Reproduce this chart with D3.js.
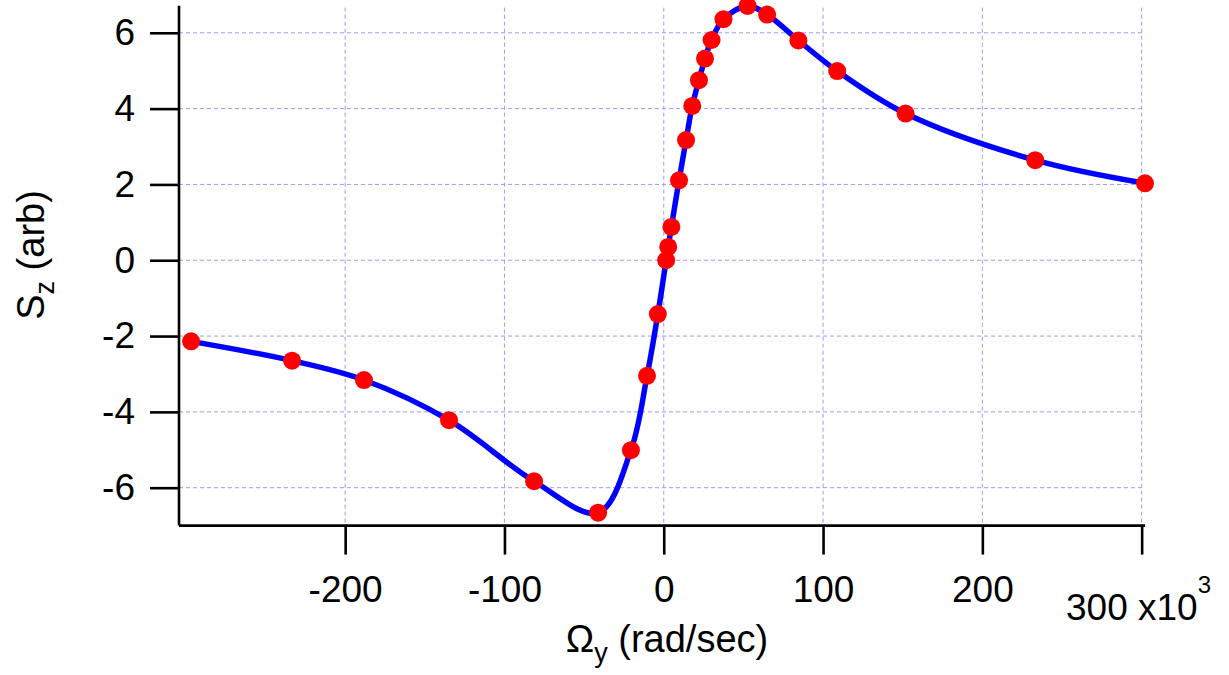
<!DOCTYPE html>
<html>
<head>
<meta charset="utf-8">
<script src="https://cdn.jsdelivr.net/npm/d3@7"></script>
<style>
  html, body { margin: 0; padding: 0; background: #fff; }
  svg { display: block; font-family: "Liberation Sans", Arial, sans-serif; }
</style>
</head>
<body>
<svg id="chart" width="1229" height="675"></svg>
<script>
// Rotation rate Ω_y (units of 10^3 rad/sec) and measured spin signal S_z (arb.)
const omega = [-296.7, -233.3, -188.2, -134.8, -81.4, -41.2, -20.6, -10.5, -3.7,
               1.5, 2.8, 4.8, 9.6, 14.0, 17.9, 22.1, 25.9, 30.0, 37.5, 52.6,
               64.9, 84.5, 108.9, 151.8, 233.2, 302.1];
const sz    = [-2.14, -2.65, -3.16, -4.22, -5.83, -6.66, -5.01, -3.05, -1.42,
               0.0, 0.35, 0.88, 2.11, 3.17, 4.07, 4.75, 5.32, 5.81, 6.36, 6.71,
               6.48, 5.80, 4.99, 3.87, 2.64, 2.03];

const xTicks = [-200, -100, 0, 100, 200, 300];
const yTicks = [-6, -4, -2, 0, 2, 4, 6];

const svg = d3.select("#chart");

const x = d3.scaleLinear().domain([-304.3, 302.1]).range([179, 1145]);
const y = d3.scaleLinear().domain([-7.0, 6.715]).range([525.6, 5.7]);

const gridColor = "#9a9aff";
const tickFont = 37;
const titleFont = 38;

// dashed grid
const grid = svg.append("g");
grid.selectAll("line.gx").data(xTicks).join("line")
  .attr("x1", d => x(d)).attr("x2", d => x(d))
  .attr("y1", y.range()[1] + 2).attr("y2", y.range()[0])
  .attr("stroke", gridColor).attr("stroke-width", 1)
  .attr("stroke-dasharray", "4,3");
grid.selectAll("line.gy").data(yTicks).join("line")
  .attr("x1", x.range()[0]).attr("x2", x.range()[1])
  .attr("y1", d => y(d)).attr("y2", d => y(d))
  .attr("stroke", gridColor).attr("stroke-width", 1)
  .attr("stroke-dasharray", "4,3");

// axes (plain hyphen for negatives)
const xAxis = d3.axisBottom(x).tickValues(xTicks).tickSize(29).tickPadding(21)
  .tickFormat(d => d === 300 ? "" : String(d));
const gx = svg.append("g").attr("transform", `translate(0,${y.range()[0]})`).call(xAxis);

const yAxis = d3.axisLeft(y).tickValues(yTicks).tickSize(29).tickPadding(15)
  .tickFormat(d => String(d));
const gy = svg.append("g").attr("transform", `translate(${x.range()[0]},0)`).call(yAxis);

[gx, gy].forEach(g => {
  g.attr("font-size", tickFont).attr("font-family", "Liberation Sans, Arial, sans-serif");
  g.select(".domain").attr("stroke", "#000").attr("stroke-width", 2.6);
  g.selectAll(".tick line").attr("stroke", "#000").attr("stroke-width", 2.6);
  g.selectAll(".tick text").attr("fill", "#000");
});
gx.select(".domain").attr("d", `M${x.range()[0]},0H${x.range()[1]}`);
gy.select(".domain").attr("d", `M0,${y.range()[0]}V${y.range()[1]}`);

// last tick label carries the axis multiplier
const last = svg.append("text")
  .attr("x", 1066).attr("y", 620)
  .attr("font-size", tickFont).attr("fill", "#000");
last.append("tspan").text("300 x10");
last.append("tspan").attr("font-size", 24).attr("dy", -27).text("3");

// fitted curve through the measurements
const line = d3.line()
  .x((d, i) => x(omega[i]))
  .y(d => y(d))
  .curve(d3.curveCatmullRom.alpha(0.5));
svg.append("path").datum(sz)
  .attr("d", line)
  .attr("fill", "none")
  .attr("stroke", "#0000ff")
  .attr("stroke-width", 5.5)
  .attr("stroke-linejoin", "round");

// data markers
svg.append("g").selectAll("circle").data(sz).join("circle")
  .attr("cx", (d, i) => x(omega[i]))
  .attr("cy", d => y(d))
  .attr("r", 9)
  .attr("fill", "#ff0000");

// axis titles
const xt = svg.append("text")
  .attr("x", 667).attr("y", 652)
  .attr("text-anchor", "middle")
  .attr("font-size", titleFont).attr("fill", "#000");
xt.append("tspan").text("Ω");
xt.append("tspan").attr("font-size", 27).attr("dy", 10).text("y");
xt.append("tspan").attr("dy", -10).text(" (rad/sec)");

const yt = svg.append("text")
  .attr("transform", "translate(44,255) rotate(-90)")
  .attr("text-anchor", "middle")
  .attr("font-size", titleFont).attr("fill", "#000");
yt.append("tspan").text("S");
yt.append("tspan").attr("font-size", 27).attr("dy", 10).text("z");
yt.append("tspan").attr("dy", -10).text(" (arb)");
</script>
</body>
</html>
